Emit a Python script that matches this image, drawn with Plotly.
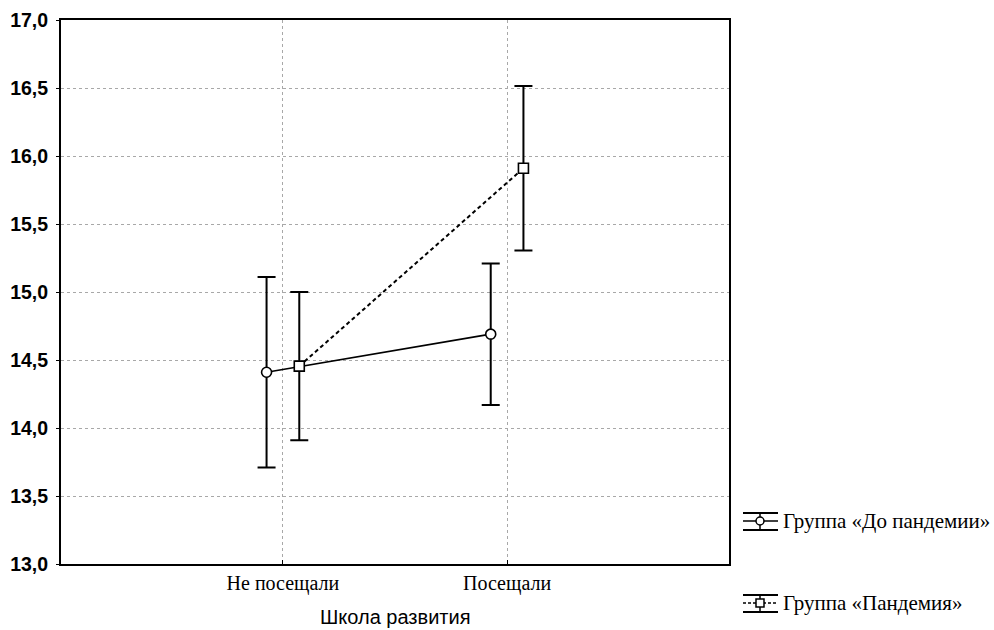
import plotly.graph_objects as go

categories = ["Не посещали", "Посещали"]
cat_pos = [0, 1]
series_names = ["Группа «До пандемии»", "Группа «Пандемия»"]
before_mean = [14.41, 14.69]
before_err = [0.70, 0.52]
pandemic_mean = [14.455, 15.91]
pandemic_err = [0.545, 0.605]
y_ticks = [13.0, 13.5, 14.0, 14.5, 15.0, 15.5, 16.0, 16.5, 17.0]
y_ticktext = ["13,0", "13,5", "14,0", "14,5", "15,0", "15,5", "16,0", "16,5", "17,0"]
x_title = "Школа развития"

W, H = 994, 630
L, R, T, B = 61, 729, 20, 564
offset = 0.073

fig = go.Figure()
fig.add_trace(go.Scatter(
    x=[p - offset for p in cat_pos], y=before_mean, mode="lines+markers",
    name=series_names[0],
    line=dict(color="black", width=1.6),
    marker=dict(symbol="circle", size=10, color="white", line=dict(color="black", width=1.6)),
    error_y=dict(type="data", array=before_err, color="black", thickness=2, width=9),
    showlegend=False,
))
fig.add_trace(go.Scatter(
    x=[p + offset for p in cat_pos], y=pandemic_mean, mode="lines+markers",
    name=series_names[1],
    line=dict(color="black", width=2, dash="4px,3px"),
    marker=dict(symbol="square", size=10, color="white", line=dict(color="black", width=1.6)),
    error_y=dict(type="data", array=pandemic_err, color="black", thickness=2, width=9),
    showlegend=False,
))

def px(x):
    return (x - L) / (R - L)

def py(y):
    return (B - y) / (B - T)

shapes = []
annotations = []
legend_rows = [521, 603]
for i, (name, yc) in enumerate(zip(series_names, legend_rows)):
    x0, x1, xc = 743, 778, 760
    for yy in (yc - 8, yc + 9):
        shapes.append(dict(type="line", xref="paper", yref="paper",
                           x0=px(x0), x1=px(x1), y0=py(yy), y1=py(yy),
                           line=dict(color="black", width=2)))
    shapes.append(dict(type="line", xref="paper", yref="paper",
                       x0=px(xc), x1=px(xc), y0=py(yc - 8), y1=py(yc + 9),
                       line=dict(color="black", width=1.5)))
    shapes.append(dict(type="line", xref="paper", yref="paper",
                       x0=px(x0), x1=px(x1), y0=py(yc), y1=py(yc),
                       line=dict(color="black", width=1.5, dash="solid" if i == 0 else "3px,2px")))
    if i == 0:
        shapes.append(dict(type="circle", xref="paper", yref="paper",
                           x0=px(xc - 4), x1=px(xc + 4), y0=py(yc - 4), y1=py(yc + 4),
                           fillcolor="white", line=dict(color="black", width=1.5)))
    else:
        shapes.append(dict(type="rect", xref="paper", yref="paper",
                           x0=px(xc - 4), x1=px(xc + 4), y0=py(yc - 4), y1=py(yc + 4),
                           fillcolor="white", line=dict(color="black", width=1.5)))
    annotations.append(dict(text=name, xref="paper", yref="paper", x=px(781), y=py(yc),
                            xanchor="left", yanchor="middle", showarrow=False,
                            font=dict(family="Liberation Serif", size=21, color="black")))

annotations.append(dict(text=x_title, xref="paper", yref="paper", x=0.5, y=py(617),
                        xanchor="center", yanchor="middle", showarrow=False,
                        font=dict(family="Liberation Sans", size=20, color="black")))

fig.update_layout(
    width=W, height=H,
    margin=dict(l=L, r=W - R, t=T, b=H - B, autoexpand=False),
    paper_bgcolor="white", plot_bgcolor="white",
    shapes=shapes, annotations=annotations,
    xaxis=dict(range=[-0.99, 1.99], tickvals=cat_pos, ticktext=categories,
               showgrid=True, gridcolor="#a8a8a8", griddash="dot", gridwidth=1,
               showline=True, linecolor="black", linewidth=2, mirror=True,
               ticks="inside", ticklen=4, tickcolor="black", automargin=False,
               tickfont=dict(family="Liberation Serif", size=20, color="black"),
               zeroline=False),
    yaxis=dict(range=[13, 17], tickvals=y_ticks, ticktext=y_ticktext,
               showgrid=True, gridcolor="#a8a8a8", griddash="dot", gridwidth=1,
               showline=True, linecolor="black", linewidth=2, mirror=True,
               ticks="outside", ticklen=3, tickcolor="black", ticklabelstandoff=4,
               automargin=False,
               tickfont=dict(family="Liberation Sans", size=19.5, color="black", weight="bold"),
               zeroline=False),
)

fig.write_html("out.html")
